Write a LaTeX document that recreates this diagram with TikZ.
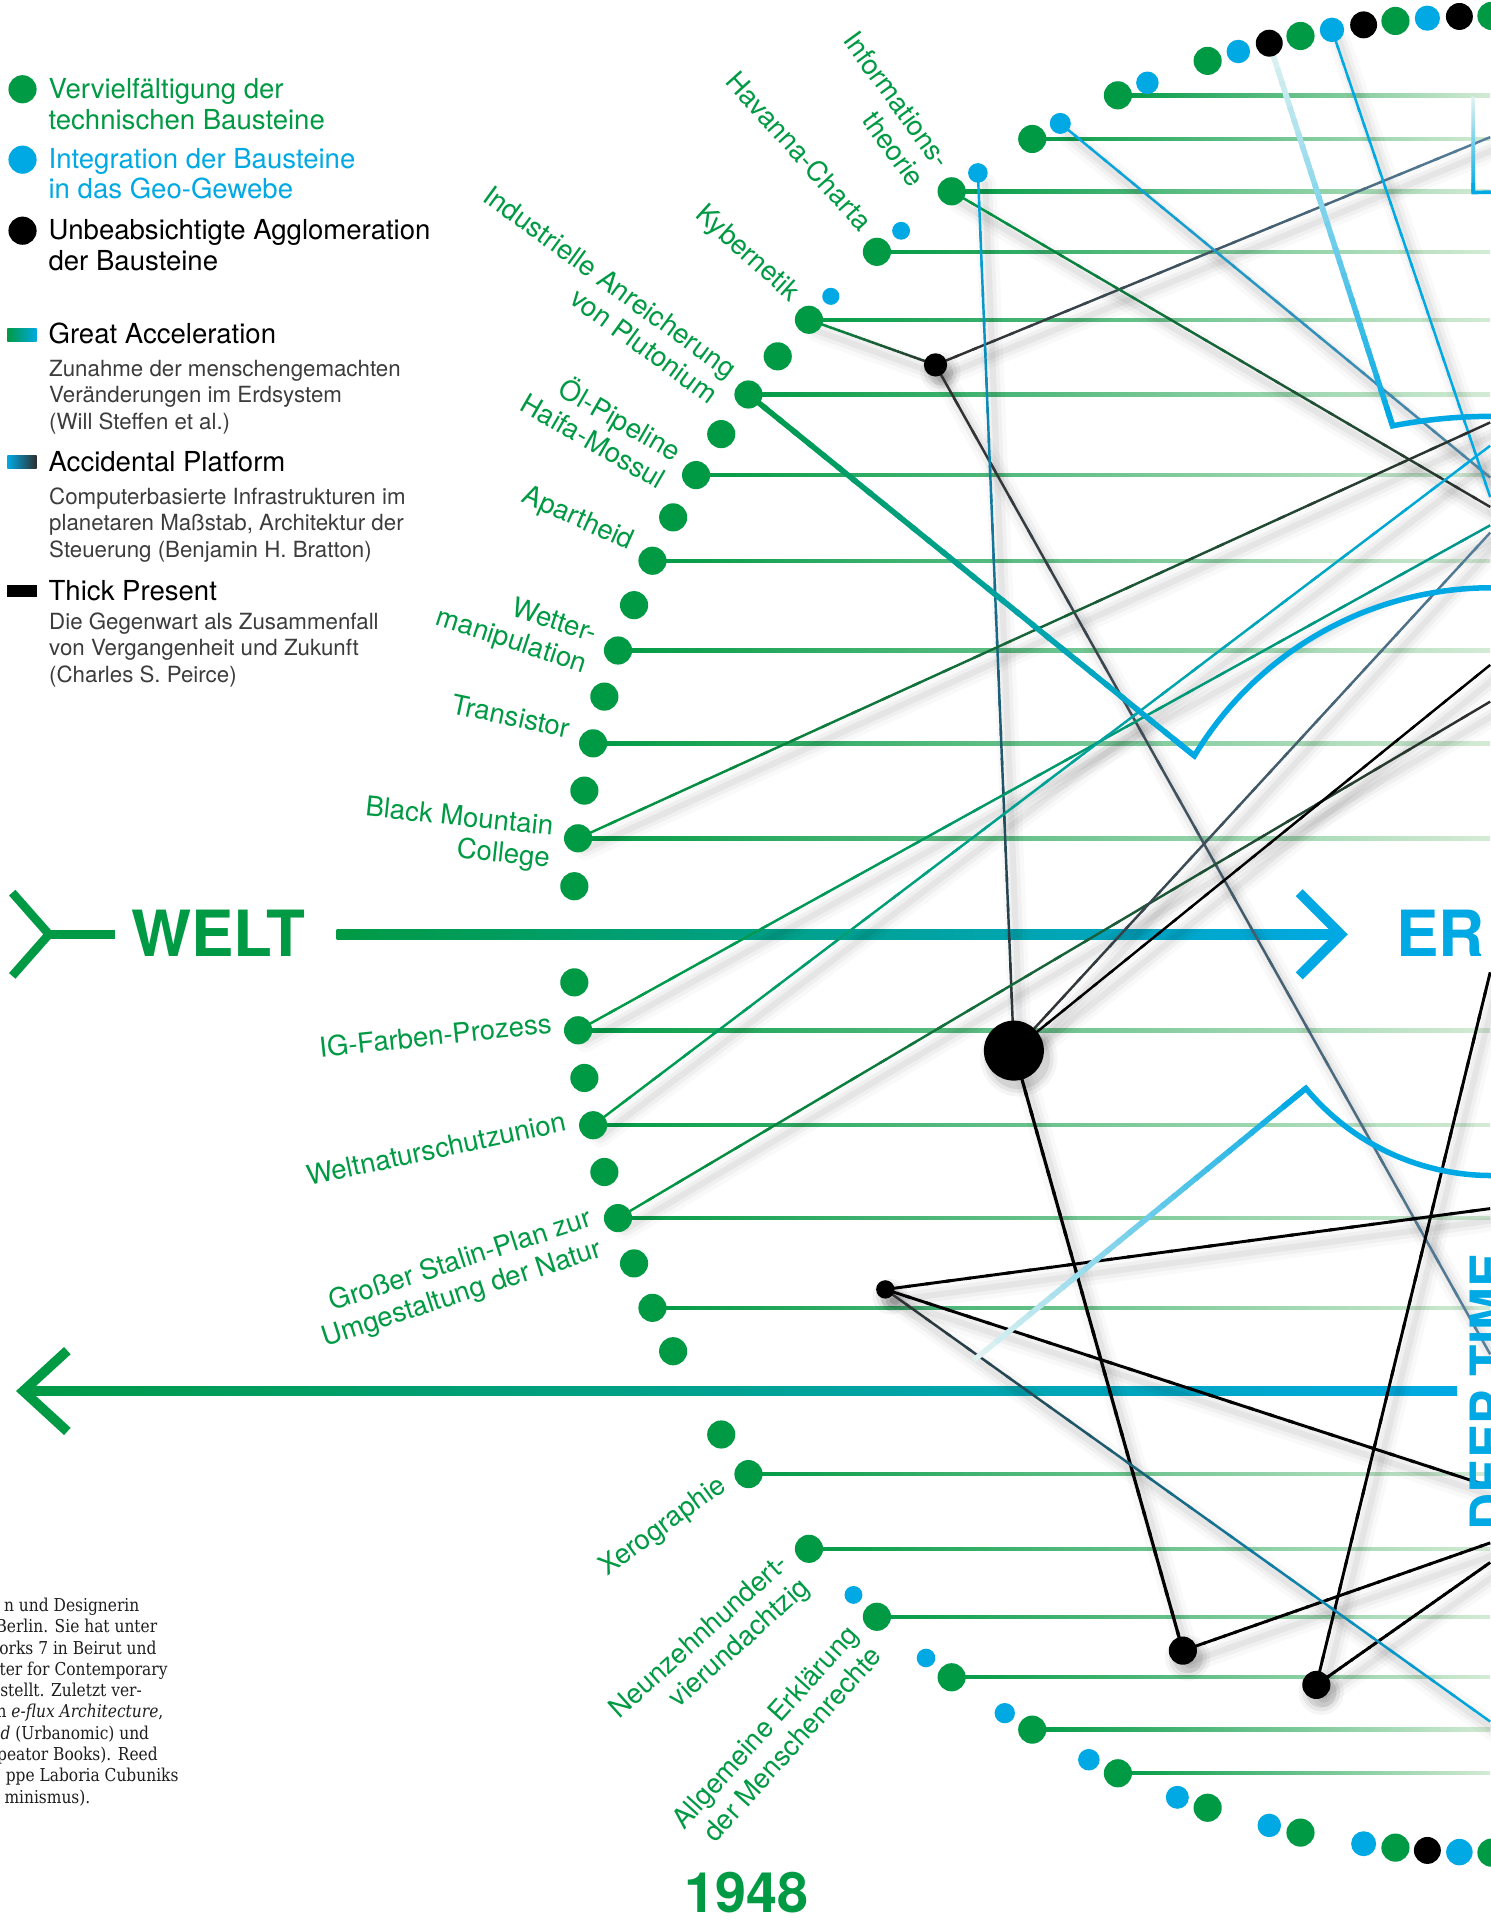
\documentclass[tikz,border=0pt]{standalone}
\usepackage{fontspec}
\setmainfont{TeX Gyre Heros}
\newfontfamily\biofont{DejaVu Serif}[FakeStretch=0.87]
\usetikzlibrary{calc}

\definecolor{wgreen}{HTML}{009A44}
\definecolor{wblue}{HTML}{00A9E3}
\definecolor{paleg}{HTML}{D4EBD5}
\definecolor{steel}{HTML}{55809C}
\definecolor{dgray}{HTML}{2E2E2E}
\definecolor{tealc}{HTML}{00968F}
\definecolor{paleteal}{HTML}{E4F4F1}
\definecolor{subgray}{HTML}{3C3C3C}
\definecolor{biotext}{HTML}{1E1E1E}

\pgfdeclarelayer{paper}
\pgfdeclarelayer{rules}
\pgfdeclarelayer{shade}
\pgfdeclarelayer{links}
\pgfsetlayers{paper,rules,shade,links,main}

% stroke with a colour ramp, built from short segments
% [width]{from}{to}{start colour}{end colour}
\newcommand\gline[5][2]{%
  \foreach \gk in {0,...,29}{%
    \pgfmathsetmacro\gta{\gk/30}%
    \pgfmathsetmacro\gtb{min(1,(\gk+1.25)/30)}%
    \pgfmathtruncatemacro\gpc{100-100*(\gk+0.5)/30}%
    \draw[line width=#1, color=#4!\gpc!#5]
      ($(#2)!\gta!(#3)$) -- ($(#2)!\gtb!(#3)$);%
  }}
% soft shadow under a connector
\newcommand\lshadow[2]{%
  \foreach \sw/\so in {18/0.025,11/0.035,5/0.045}{%
    \draw[line width=\sw, black, opacity=\so, line cap=round]
      ($(#1)+(6,9)$) -- ($(#2)+(6,9)$);}}
% connector: shadow plus ramped stroke
\newcommand\conn[5][2]{%
  \begin{pgfonlayer}{shade}\lshadow{#2}{#3}\end{pgfonlayer}%
  \begin{pgfonlayer}{links}\gline[#1]{#2}{#3}{#4}{#5}\end{pgfonlayer}}
% soft shadow under a black agglomeration node: {node}{radius}
\newcommand\nshadow[2]{%
  \begin{pgfonlayer}{shade}%
  \foreach \sr/\so in {7/0.04,4/0.06,1/0.08}{%
    \fill[black,opacity=\so] ($(#1)+(4,6)$) circle ({#2+\sr});}%
  \end{pgfonlayer}}

% labels set along the radius of the ring (centre 1218/763, radius 750);
% a node's base is its last line, so two-line labels are moved one line down
\newcommand\uplab[2]{\node[lab,rotate=-#1] (lu#1) at ({1218-771*cos(#1)},{763-771*sin(#1)}) {#2};}
\newcommand\lowlab[2]{\node[lab,rotate=#1] (ll#1) at ({1218-771*cos(#1)},{763+771*sin(#1)}) {#2};}
\newcommand\uplabii[3]{\node[lab,rotate=-#1] (lu#1) at ({1218-771*cos(#1)-26*sin(#1)},{763-771*sin(#1)+26*cos(#1)}) {#2\\#3};}
\newcommand\lowlabii[3]{\node[lab,rotate=#1] (ll#1) at ({1218-771*cos(#1)+26*sin(#1)},{763+771*sin(#1)+26*cos(#1)}) {#2\\#3};}

\begin{document}
\begin{tikzpicture}[x=1pt,y=-1pt,
  gdot/.style={circle,fill=wgreen,inner sep=0pt,minimum size=23},
  bdot/.style={circle,fill=wblue,inner sep=0pt},
  kdot/.style={circle,fill=black,inner sep=0pt,minimum size=22},
  knode/.style={circle,fill=black,inner sep=0pt},
  lab/.style={anchor=base east,align=right,text=wgreen,inner sep=0pt,
     font=\fontsize{22.5}{26}\selectfont},
  leg/.style={anchor=base west,align=left,inner sep=0pt,
     font=\fontsize{22.5}{25}\selectfont},
  legsub/.style={anchor=base west,align=left,inner sep=0pt,text=subgray,
     font=\fontsize{18.2}{21.6}\selectfont},
  bio/.style={anchor=base east,inner sep=0pt,text=biotext,
     font=\biofont\fontsize{14.5}{17}\selectfont},
  bigtitle/.style={inner sep=0pt,anchor=base west,font=\fontsize{52}{52}\selectfont\bfseries},
]
\begin{pgfonlayer}{paper}
  \fill[white] (0,0) rectangle (1217,1568);
\end{pgfonlayer}
\useasboundingbox (0,0) rectangle (1217,1568);
\coordinate (edge) at (1217,0);

% ---------------- legend (bases given for the last line) ----------------
\node[gdot] (lg1) at (18.4,72.9) {};
\node[bdot,minimum size=23] (lg2) at (18.4,130.4) {};
\node[kdot,minimum size=23] (lg3) at (18.4,188.4) {};
\node[leg,text=wgreen] (lt1) at (39.5,105.7) {Vervielfältigung der\\technischen Bausteine};
\node[leg,text=wblue] (lt2) at (39.5,162.4) {Integration der Bausteine\\in das Geo-Gewebe};
\node[leg,text=black] (lt3) at (39.5,220.7) {Unbeabsichtigte Agglomeration\\der Bausteine};

\shade[left color=wgreen,right color=wblue] (6,268.5) rectangle (30,278.5);
\node[leg] (lh1) at (39.5,280.7) {Great Acceleration};
\node[legsub] (ls1) at (40,350.6) {Zunahme der menschengemachten\\Veränderungen im Erdsystem\\(Will Steffen et al.)};
\shade[left color=wblue,right color=dgray] (6,372) rectangle (30,382.4);
\node[leg] (lh2) at (39.5,385) {Accidental Platform};
\node[legsub] (ls2) at (40,454.9) {Computerbasierte Infrastrukturen im\\planetaren Maßstab, Architektur der\\Steuerung (Benjamin H. Bratton)};
\fill[black] (6,477.4) rectangle (30,487.7);
\node[leg] (lh3) at (39.5,490) {Thick Present};
\node[legsub] (ls3) at (40,557.2) {Die Gegenwart als Zusammenfall\\von Vergangenheit und Zukunft\\(Charles S. Peirce)};

% ---------------- ring of building blocks ----------------
\foreach \a in {3,6,9,12,15,18,21,24,27,30,33,36,39,42,48,54,60,66,72,78,84,90}
  \node[gdot] (g\a) at ({1218-750*cos(\a)},{763-750*sin(\a)}) {};
\foreach \a in {3,6,9,12,15,18,21,24,27,33,36,42,48,54,60,66,72,78,84,90}
  \node[gdot] (m\a) at ({1218-750*cos(\a)},{763+750*sin(\a)}) {};
\foreach \a/\r in {44/7,50/7.3,56/8,62/8.6,68/9.2,74/9.6,80/10,86/10.3}
  \node[bdot,minimum size=2*\r] (b\a) at ({1218-750*cos(\a)},{763-750*sin(\a)}) {};
\foreach \a/\r in {46/7.3,52/7.6,58/8.3,64/8.8,70/9.4,76/9.6,82/10.2,88/10.8}
  \node[bdot,minimum size=2*\r] (bm\a) at ({1218-750*cos(\a)},{763+750*sin(\a)}) {};
\foreach \a in {76,82,88}
  \node[kdot] (k\a) at ({1218-750*cos(\a)},{763-750*sin(\a)}) {};
\node[kdot] (km86) at ({1218-750*cos(86)},{763+750*sin(86)}) {};

% horizontal rules running out of the ring
\begin{pgfonlayer}{rules}
  \foreach \a in {6,12,18,24,30,36,42,48,54,60,66}
    \shade[left color=wgreen,right color=paleg]
      ($(g\a)+(0,-1.4)$) rectangle ($(g\a-|edge)+(0,1.4)$);
  \foreach \a in {6,12,18,24,36,42,48,54,60,66}
    \shade[left color=wgreen,right color=paleg]
      ($(m\a)+(0,-1.4)$) rectangle ($(m\a-|edge)+(0,1.4)$);
  % WELT arrow
  \shade[left color=wgreen,right color=wblue] (275,759) rectangle (1096,767);
  \draw[wblue,line width=8,miter limit=10] (1061,729) -- (1095,763) -- (1061,797);
  \draw[wgreen,line width=7] (10,729) -- (40,763) -- (10,797);
  \draw[wgreen,line width=7] (38,763) -- (94,763);
  % return arrow
  \shade[left color=wgreen,right color=wblue] (18,1132) rectangle (1190,1140);
  \draw[wgreen,line width=8,miter limit=10] (55,1103) -- (19,1136) -- (55,1169);
\end{pgfonlayer}

% ---------------- labels ----------------
\uplabii{54}{Informations-}{theorie}
\uplab{48}{Havanna-Charta}
\uplab{42}{Kybernetik}
\uplabii{36}{Industrielle Anreicherung}{von Plutonium}
\uplabii{30}{Öl-Pipeline}{Haifa-Mossul}
\uplab{24}{Apartheid}
\uplabii{18}{Wetter-}{manipulation}
\uplab{12}{Transistor}
\uplabii{6}{Black Mountain}{College}
\lowlab{6}{IG-Farben-Prozess}
\lowlab{12}{Weltnaturschutzunion}
\lowlabii{18}{Großer Stalin-Plan zur}{Umgestaltung der Natur}
\lowlab{36}{Xerographie}
\lowlabii{42}{Neunzehnhundert-}{vierundachtzig}
\lowlabii{48}{Allgemeine Erklärung}{der Menschenrechte}

% ---------------- agglomerations ----------------
\node[knode,minimum size=19] (A) at (764,298) {};
\node[knode,minimum size=49] (B) at (828,858) {};
\node[knode,minimum size=23] (C1) at (966,1348) {};
\node[knode,minimum size=23] (C2) at (1075,1376) {};
\node[knode,minimum size=15] (D) at (723,1053) {};
\nshadow{A}{9.5}
\nshadow{B}{24.5}
\nshadow{C1}{11.5}
\nshadow{C2}{11.5}
\nshadow{D}{7.5}

% free ends at the right border
\coordinate (eA1) at (1217,112);
\coordinate (eA2) at (1217,1106);
\coordinate (eInfo) at (1217,414);
\coordinate (eB62) at (1217,390);
\coordinate (eB80) at (1217,406);
\coordinate (eBMC) at (1217,345);
\coordinate (eIGF) at (1217,429);
\coordinate (eWNU) at (1217,364);
\coordinate (eSta) at (1217,573);
\coordinate (eB1) at (1217,435);
\coordinate (eB2) at (1217,543);
\coordinate (eC1) at (1217,1260);
\coordinate (eC2a) at (1217,794);
\coordinate (eC2b) at (1217,1276);
\coordinate (eD1) at (1217,987);
\coordinate (eD2) at (1217,1214);
\coordinate (eD3) at (1217,1406);

% ---------------- connectors ----------------
\conn{g42}{A}{wgreen}{dgray}
\conn{A}{eA1}{dgray}{steel}
\conn{A}{eA2}{dgray}{steel}
\conn{g54}{eInfo}{wgreen}{dgray}
\conn{b56}{B}{wblue}{dgray}
\conn{b62}{eB62}{wblue}{steel}
\conn{b80}{eB80}{wblue}{wblue}
\conn{g6}{eBMC}{wgreen}{dgray}
\conn{m6}{eIGF}{wgreen}{tealc}
\conn{m12}{eWNU}{wgreen}{wblue}
\conn{m18}{eSta}{wgreen}{dgray}
\conn{B}{eB1}{dgray}{steel}
\conn{B}{eB2}{black}{black}
\conn[2.6]{B}{C1}{black}{black}
\conn[2.4]{C1}{eC1}{black}{black}
\conn[2.4]{C2}{eC2a}{black}{black}
\conn[2.4]{C2}{eC2b}{black}{black}
\conn[2.4]{D}{eD1}{black}{black}
\conn[2.4]{D}{eD2}{black}{black}
\conn{D}{eD3}{dgray}{wblue}

% ---------------- platform outlines ----------------
\coordinate (v1) at ({1218-423*cos(79)},{763-423*sin(79)});
\coordinate (v2) at ({1218-283*cos(31)},{763-283*sin(31)});
\coordinate (v3) at ({1218-197*cos(39.7)},{763+197*sin(39.7)});
\coordinate (t3s) at (795,1111);
\coordinate (r1) at (1203,79);
\coordinate (r2) at ({1218-606*cos(88.6)},{763-606*sin(88.6)});
\begin{pgfonlayer}{links}
  \gline[4.5]{k76}{v1}{paleteal}{wblue}
  \draw[wblue,line width=4.5,miter limit=10] ($(k76)!0.95!(v1)$) -- (v1) arc[start angle=259,end angle=272,radius=423];
  \gline[4.5]{g36}{v2}{wgreen}{wblue}
  \draw[wblue,line width=4.5,miter limit=10] ($(g36)!0.95!(v2)$) -- (v2) arc[start angle=211,end angle=272,radius=283];
  \gline[4.5]{t3s}{v3}{paleteal}{wblue}
  \draw[wblue,line width=4.5,miter limit=10] ($(t3s)!0.93!(v3)$) -- (v3) arc[start angle=140.3,end angle=88,radius=197];
  \gline[3]{r1}{r2}{paleteal}{wblue}
  \draw[wblue,line width=3,miter limit=10] ($(r1)!0.9!(r2)$) -- (r2) arc[start angle=268.6,end angle=272,radius=606];
\end{pgfonlayer}

% ---------------- titles ----------------
\node[bigtitle,text=wgreen] (welt) at (107,781) {WELT};
\node[bigtitle,text=wblue] (er) at (1140,781) {ER};
\node[bigtitle,text=wblue,rotate=90,font=\fontsize{42}{42}\selectfont\bfseries] (deep) at (1231,1250) {DEEP TIME};
\node[text=wgreen,anchor=base,inner sep=0pt,font=\fontsize{45.5}{46}\selectfont\bfseries] (year) at (610,1562) {1948};

% ---------------- biography fragment ----------------
\node[bio] (bio1) at (114,1316) {n und Designerin};
\node[bio] (bio2) at (128.6,1333.4) {Berlin. Sie hat unter};
\node[bio] (bio3) at (128,1350.8) {orks 7 in Beirut und};
\node[bio] (bio4) at (137,1368.2) {ter for Contemporary};
\node[bio] (bio5) at (116,1385.6) {estellt. Zuletzt ver-};
\node[bio] (bio6) at (133.6,1403) {n \textit{e-flux Architecture},};
\node[bio] (bio7) at (122,1420.4) {\textit{d} (Urbanomic) und};
\node[bio] (bio8) at (129,1437.8) {peator Books). Reed};
\node[bio] (bio9) at (146,1455.2) {ppe Laboria Cubuniks};
\node[bio] (bio10) at (74,1472.6) {minismus).};
\end{tikzpicture}
\end{document}
